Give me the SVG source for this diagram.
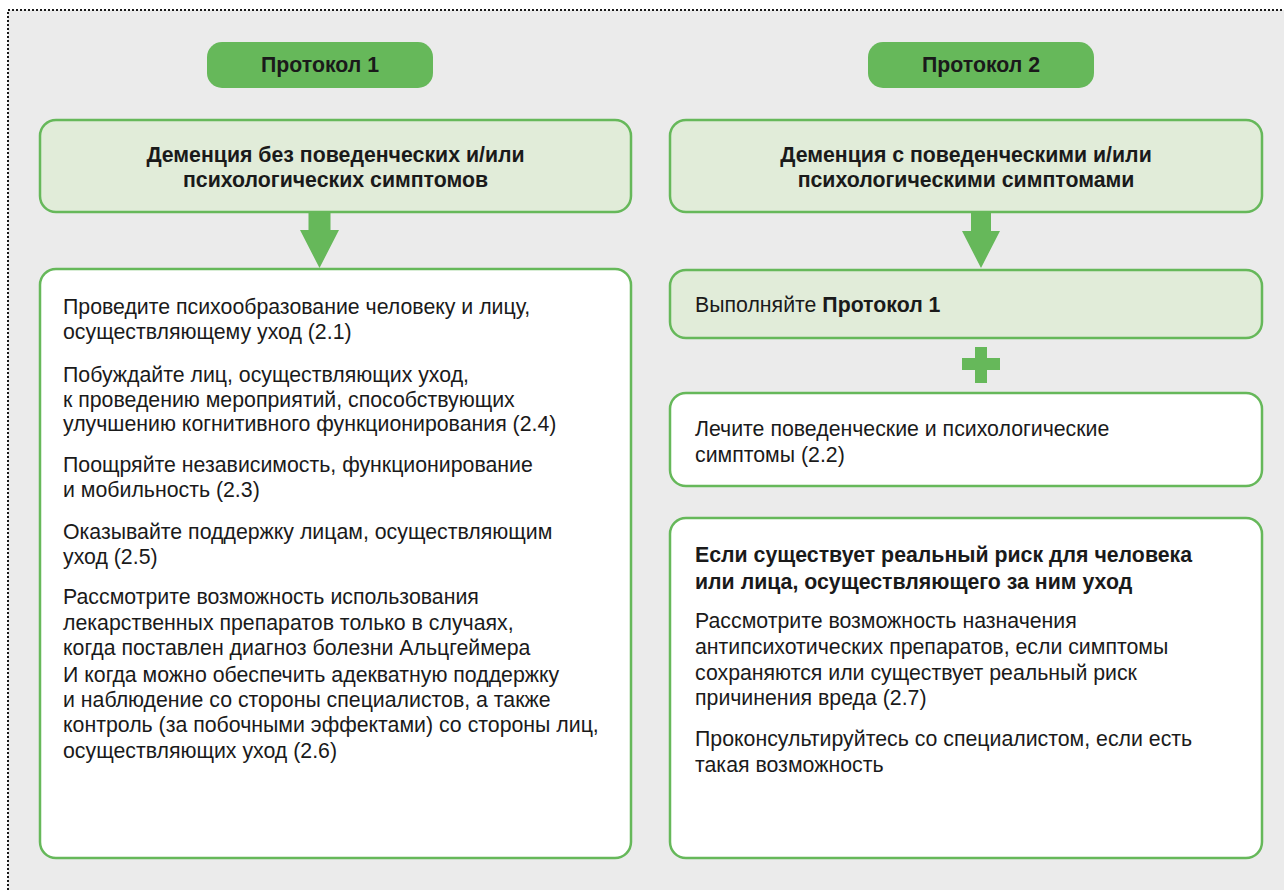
<svg xmlns="http://www.w3.org/2000/svg" width="1284" height="890" viewBox="0 0 1284 890">
<style>
.t{font-family:"Liberation Sans",Arial,sans-serif;font-size:21.3px;fill:#1a1a1a}
.b{font-weight:bold}
.c{text-anchor:middle}
.pill{fill:#66b85a}
.hdr{fill:#e1ecd9;stroke:#66b85a;stroke-width:2.5}
.box{fill:#ffffff;stroke:#66b85a;stroke-width:2.5}
.arr{fill:#66b85a}
</style>
<rect x="0" y="0" width="1284" height="890" fill="#ffffff"/>
<rect x="8" y="10" width="1300" height="900" fill="#ebebeb" stroke="#1a1a1a" stroke-width="2" stroke-dasharray="2 2"/>

<g id="connectors">
  <path class="arr" d="M308.5 212 H330.5 V230 H339 L319.5 268 L300 230 H308.5 Z"/>
  <path class="arr" d="M971 212 H991 V231 H1000 L981 268 L962 231 H971 Z"/>
  <path class="arr" d="M975 347 H987 V358 H1000 V370 H987 V383 H975 V370 H962 V358 H975 Z"/>
</g>

<g id="protocol1">
  <rect class="pill" x="207" y="42" width="226" height="46" rx="15"/>
  <text class="t b c" x="320" y="72">Протокол 1</text>
</g>
<g id="protocol2">
  <rect class="pill" x="868" y="42" width="226" height="46" rx="15"/>
  <text class="t b c" x="981" y="72">Протокол 2</text>
</g>

<g id="header1">
  <rect class="hdr" x="40" y="120" width="591" height="92" rx="16"/>
  <text class="t b c" x="335.5" y="162">Деменция без поведенческих и/или</text>
  <text class="t b c" x="335.5" y="187">психологических симптомов</text>
</g>
<g id="header2">
  <rect class="hdr" x="670" y="120" width="592" height="92" rx="16"/>
  <text class="t b c" x="966" y="162">Деменция с поведенческими и/или</text>
  <text class="t b c" x="966" y="187">психологическими симптомами</text>
</g>

<g id="body1">
  <rect class="box" x="40" y="269" width="591" height="589" rx="16"/>
  <text class="t" x="63" y="314">Проведите психообразование человеку и лицу,</text>
  <text class="t" x="63" y="339">осуществляющему уход (2.1)</text>
  <text class="t" x="63" y="382">Побуждайте лиц, осуществляющих уход,</text>
  <text class="t" x="63" y="407">к проведению мероприятий, способствующих</text>
  <text class="t" x="63" y="431">улучшению когнитивного функционирования (2.4)</text>
  <text class="t" x="63" y="472">Поощряйте независимость, функционирование</text>
  <text class="t" x="63" y="497">и мобильность (2.3)</text>
  <text class="t" x="63" y="539">Оказывайте поддержку лицам, осуществляющим</text>
  <text class="t" x="63" y="564">уход (2.5)</text>
  <text class="t" x="63" y="604">Рассмотрите возможность использования</text>
  <text class="t" x="63" y="630">лекарственных препаратов только в случаях,</text>
  <text class="t" x="63" y="655">когда поставлен диагноз болезни Альцгеймера</text>
  <text class="t" x="63" y="682">И когда можно обеспечить адекватную поддержку</text>
  <text class="t" x="63" y="707">и наблюдение со стороны специалистов, а также</text>
  <text class="t" x="63" y="732">контроль (за побочными эффектами) со стороны лиц,</text>
  <text class="t" x="63" y="758">осуществляющих уход (2.6)</text>
</g>

<g id="follow1">
  <rect class="hdr" x="670" y="270" width="592" height="68" rx="16"/>
  <text class="t" x="695" y="312">Выполняйте <tspan class="b">Протокол 1</tspan></text>
</g>

<g id="treat">
  <rect class="box" x="670" y="393" width="592" height="93" rx="16"/>
  <text class="t" x="695" y="436">Лечите поведенческие и психологические</text>
  <text class="t" x="695" y="462">симптомы (2.2)</text>
</g>

<g id="risk">
  <rect class="box" x="670" y="518" width="592" height="340" rx="16"/>
  <text class="t b" x="695" y="562">Если существует реальный риск для человека</text>
  <text class="t b" x="695" y="589">или лица, осуществляющего за ним уход</text>
  <text class="t" x="695" y="628">Рассмотрите возможность назначения</text>
  <text class="t" x="695" y="654">антипсихотических препаратов, если симптомы</text>
  <text class="t" x="695" y="680">сохраняются или существует реальный риск</text>
  <text class="t" x="695" y="705">причинения вреда (2.7)</text>
  <text class="t" x="695" y="746">Проконсультируйтесь со специалистом, если есть</text>
  <text class="t" x="695" y="772">такая возможность</text>
</g>
</svg>
